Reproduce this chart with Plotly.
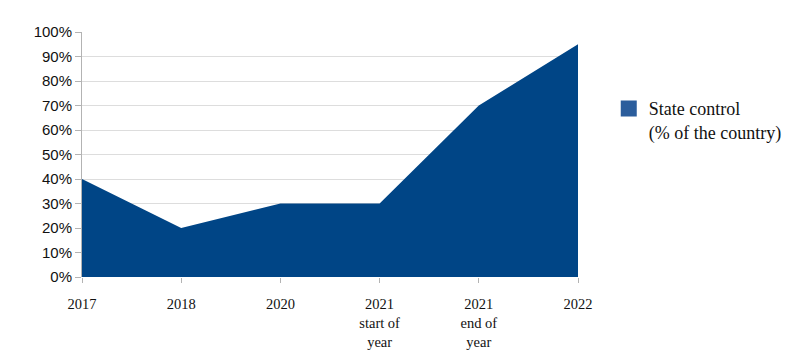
import plotly.graph_objects as go

categories = ["2017", "2018", "2020", "2021 start", "2021 end", "2022"]
tick_labels = ["2017", "2018", "2020", "2021<br>start of<br>year", "2021<br>end of<br>year", "2022"]
state_control = [40, 20, 30, 30, 70, 95]
y_ticks = list(range(0, 101, 10))
y_tick_labels = [f"{v}%" for v in y_ticks]

fig = go.Figure()
fig.add_trace(go.Scatter(
    x=list(range(len(categories))), y=state_control,
    mode="none", fill="tozeroy", fillcolor="#004586",
    showlegend=False, name="State control",
))
# legend-only entry with square swatch
fig.add_trace(go.Scatter(
    x=[None], y=[None], mode="markers",
    marker=dict(symbol="square", size=16, color="#2b5d9c"),
    name="State control<br>(% of the country)", showlegend=True,
))

fig.update_layout(
    width=802, height=359,
    margin=dict(l=74, r=232, t=24, b=90),
    plot_bgcolor="white", paper_bgcolor="white",
    showlegend=True,
    legend=dict(x=1.062, y=0.64, yanchor="middle", xanchor="left", valign="top",
                font=dict(family="Liberation Serif", size=18, color="#111"),
                bgcolor="rgba(0,0,0,0)"),
    xaxis=dict(
        range=[0, len(categories) - 1],
        tickvals=list(range(len(categories))), ticktext=tick_labels,
        showgrid=False, zeroline=False,
        ticks="outside", ticklen=5, tickcolor="#b3b3b3",
        showline=False, ticklabelstandoff=9,
        tickfont=dict(family="Liberation Serif", size=14.5, color="#111"),
    ),
    yaxis=dict(
        range=[0, 100], tickvals=y_ticks, ticktext=y_tick_labels,
        showgrid=True, gridcolor="#dddddd", gridwidth=1,
        zeroline=False, ticks="outside", ticklen=6, tickcolor="#b3b3b3",
        showline=True, linecolor="#b3b3b3", linewidth=1,
        tickfont=dict(family="Liberation Sans", size=15, color="#111"),
    ),
)
fig.write_html("out.html")
